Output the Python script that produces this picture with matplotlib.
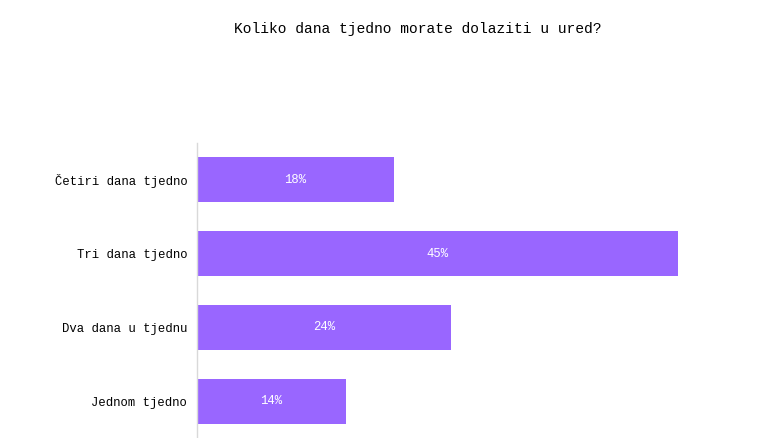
import matplotlib
matplotlib.use("Agg")
import matplotlib.pyplot as plt

categories = ["Četiri dana tjedno", "Tri dana tjedno", "Dva dana u tjednu", "Jednom tjedno"]
values = [18.4, 45.0, 23.8, 13.9]
labels = ["18%", "45%", "24%", "14%"]

plt.rcParams['font.family'] = ['Liberation Mono', 'DejaVu Sans Mono']

fig = plt.figure(figsize=(7.77, 4.38), dpi=100)
ax = fig.add_axes([197 / 777, 0, 560 / 777, 295 / 438])

ypos = list(range(len(categories)))
ax.barh(ypos, values, height=0.61, color='#9966ff')
for y, v, lab in zip(ypos, values, labels):
    ax.text(v / 2, y, lab, color='white', ha='center', va='center', fontsize=8.8)

ax.set_yticks(ypos)
ax.set_yticklabels(categories, fontsize=8.8)
ax.set_ylim(3.5, -0.5)
ax.set_xlim(0, 52.4)
ax.set_xticks([])
ax.tick_params(axis='y', length=0, pad=7)
for side in ['top', 'right', 'bottom']:
    ax.spines[side].set_visible(False)
ax.spines['left'].set_color('#d9d9d9')
ax.spines['left'].set_linewidth(1)

fig.text(418 / 777, 1 - 29 / 438, "Koliko dana tjedno morate dolaziti u ured?",
         ha='center', va='center', fontsize=10.5)

fig.savefig("out.png", dpi=100)
